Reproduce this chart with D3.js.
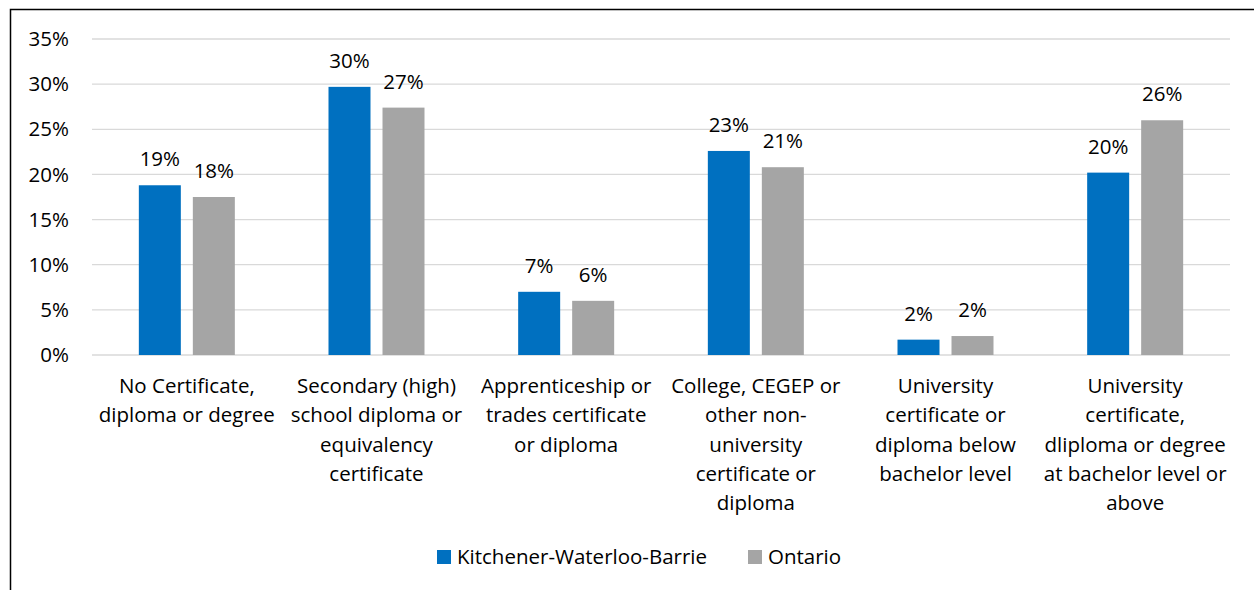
<!DOCTYPE html>
<html><head><meta charset="utf-8">
<script src="https://cdn.jsdelivr.net/npm/d3@7"></script>
<style>body{margin:0;background:#fff}svg{display:block}text{font-family:"Open Sans",sans-serif;fill:#000}</style>
</head><body><svg id="c" width="1254" height="590"></svg>
<script>
const categories = [
  ["No Certificate,","diploma or degree"],
  ["Secondary (high)","school diploma or","equivalency","certificate"],
  ["Apprenticeship or","trades certificate","or diploma"],
  ["College, CEGEP or","other non-","university","certificate or","diploma"],
  ["University","certificate or","diploma below","bachelor level"],
  ["University","certificate,","dliploma or degree","at bachelor level or","above"]
];
const seriesNames = ["Kitchener-Waterloo-Barrie","Ontario"];
const kwb = [18.8, 29.7, 7.0, 22.6, 1.7, 20.2];
const ontario = [17.5, 27.4, 6.0, 20.8, 2.1, 26.0];
const yTicks = [0,5,10,15,20,25,30,35];
const colors = ["#0070C0","#A5A5A5"];

const svg = d3.select("#c");
svg.append("rect").attr("x",10.5).attr("y",9.5).attr("width",1300).attr("height",700)
  .attr("fill","none").attr("stroke","#000").attr("stroke-width",1.5);

const L=92,R=1230,T=39,B=355;
const x = d3.scaleBand().domain(d3.range(categories.length)).range([L,R]);
const y = d3.scaleLinear().domain([0,35]).range([B,T]);
const fs = 20.5;

const grid = svg.append("g");
grid.selectAll("line").data(yTicks).join("line")
  .attr("x1",L).attr("x2",R).attr("y1",d=>y(d)).attr("y2",d=>y(d))
  .attr("stroke","#d9d9d9").attr("stroke-width",1.3);
svg.append("g").selectAll("text").data(yTicks).join("text")
  .attr("x",69).attr("y",d=>y(d)).attr("dy","0.35em").attr("text-anchor","end")
  .attr("font-size",fs).text(d=>d+"%");

const barW=42, gap=12;
const series=[kwb,ontario];
series.forEach((vals,si)=>{
  const g=svg.append("g");
  const bx = i => x(i)+x.bandwidth()/2 + (si===0 ? -gap/2-barW : gap/2);
  g.selectAll("rect").data(vals).join("rect")
    .attr("x",(d,i)=>bx(i)).attr("width",barW)
    .attr("y",d=>y(d)).attr("height",d=>B-y(d)).attr("fill",colors[si]);
  g.selectAll("text").data(vals).join("text")
    .attr("x",(d,i)=>bx(i)+barW/2).attr("y",d=>y(d)-19)
    .attr("text-anchor","middle").attr("font-size",fs)
    .text(d=>Math.round(d)+"%");
});

const cg=svg.append("g");
categories.forEach((lines,i)=>{
  const t=cg.append("text").attr("text-anchor","middle").attr("font-size",fs);
  lines.forEach((ln,j)=>{
    t.append("tspan").attr("x",x(i)+x.bandwidth()/2).attr("y",393+j*29.3).text(ln);
  });
});

const legendX=[437,748];
seriesNames.forEach((n,i)=>{
  svg.append("rect").attr("x",legendX[i]).attr("y",550).attr("width",14).attr("height",14).attr("fill",colors[i]);
  svg.append("text").attr("x",legendX[i]+20).attr("y",557).attr("dy","0.35em").attr("font-size",fs).text(n);
});
</script></body></html>
